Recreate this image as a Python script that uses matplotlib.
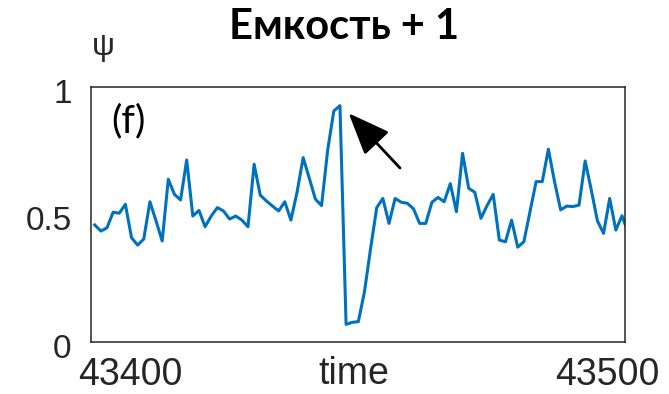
import numpy as np
import matplotlib
matplotlib.use("Agg")
import matplotlib.pyplot as plt
import matplotlib.transforms as mtransforms

# ---- data ----
t0 = 43400.7
dt = 1.148
psi = [0.459, 0.435, 0.448, 0.509, 0.505, 0.540, 0.409, 0.380, 0.404, 0.550,
       0.475, 0.396, 0.638, 0.579, 0.557, 0.714, 0.494, 0.516, 0.452, 0.494,
       0.527, 0.514, 0.482, 0.494, 0.478, 0.452, 0.697, 0.576, 0.553, 0.533,
       0.514, 0.550, 0.478, 0.587, 0.723, 0.642, 0.560, 0.535, 0.753, 0.906,
       0.927, 0.069, 0.077, 0.080, 0.197, 0.367, 0.527, 0.563, 0.465, 0.563,
       0.548, 0.544, 0.522, 0.465, 0.465, 0.548, 0.567, 0.550, 0.621, 0.511,
       0.740, 0.603, 0.587, 0.485, 0.535, 0.579, 0.400, 0.393, 0.478, 0.372,
       0.393, 0.511, 0.629, 0.629, 0.756, 0.629, 0.518, 0.533, 0.531, 0.537,
       0.710, 0.596, 0.475, 0.426, 0.563, 0.439, 0.495, 0.430]
time = t0 + dt * np.arange(len(psi))

x_ticks = [43400, 43500]
x_tick_labels = ["43400", "43500"]
y_ticks = [0, 0.5, 1]
y_tick_labels = ["0", "0.5", "1"]
title = "Емкость + 1"
panel = "(f)"

W, H = 669, 394
fig = plt.figure(figsize=(W / 100, H / 100), dpi=100)
L, R, T, B = 91, 625, 87, 342
ax = fig.add_axes([L / W, 1 - B / H, (R - L) / W, (B - T) / H])

ax.plot(time, psi, color="#0072BD", lw=2.2)
ax.set_xlim(43400, 43500)
ax.set_ylim(0, 1)

for s in ax.spines.values():
    s.set_color("#262626")
    s.set_linewidth(1.1)

ax.tick_params(length=0)
ax.set_yticks(y_ticks)
ax.set_yticklabels(y_tick_labels, fontsize=24, family="Liberation Sans", color="#262626")
ax.tick_params(axis="y", pad=14)
for lab in ax.get_yticklabels():
    lab.set_transform(lab.get_transform() + mtransforms.ScaledTranslation(0, -4 / 100, fig.dpi_scale_trans))

ax.set_xticks(x_ticks)
ax.set_xticklabels(x_tick_labels, fontsize=27, family="Liberation Sans", color="#262626")
ax.tick_params(axis="x", pad=11)
xl = ax.get_xticklabels()
xl[0].set_horizontalalignment("left")
xl[0].set_transform(xl[0].get_transform() + mtransforms.ScaledTranslation(-13 / 100, 0, fig.dpi_scale_trans))
xl[1].set_horizontalalignment("right")
xl[1].set_transform(xl[1].get_transform() + mtransforms.ScaledTranslation(34 / 100, 0, fig.dpi_scale_trans))

fig.text(354 / W, 1 - 374 / H, "time", fontsize=27, family="Liberation Sans",
         color="#262626", ha="center", va="center")
fig.text(103 / W, 1 - 47 / H, "ψ", fontsize=23, family="Liberation Sans",
         color="#262626", ha="center", va="center")
fig.text(344 / W, 1 - 27 / H, title, fontsize=30, family="Lato",
         fontweight="bold", color="black", ha="center", va="center")
ax.text((128 - L) / (R - L), (B - 121) / (B - T), panel, transform=ax.transAxes,
        fontsize=28, family="Lato", color="black", ha="center", va="center")

ax.annotate("", xy=((348.7 - L) / (R - L), (B - 113.3) / (B - T)),
            xytext=((400 - L) / (R - L), (B - 168) / (B - T)),
            xycoords="axes fraction", textcoords="axes fraction",
            arrowprops=dict(arrowstyle="-|>,head_length=2.6,head_width=1.05",
                            mutation_scale=10, lw=2.0, color="black",
                            shrinkA=0, shrinkB=0))

fig.savefig("out.png", dpi=100)
